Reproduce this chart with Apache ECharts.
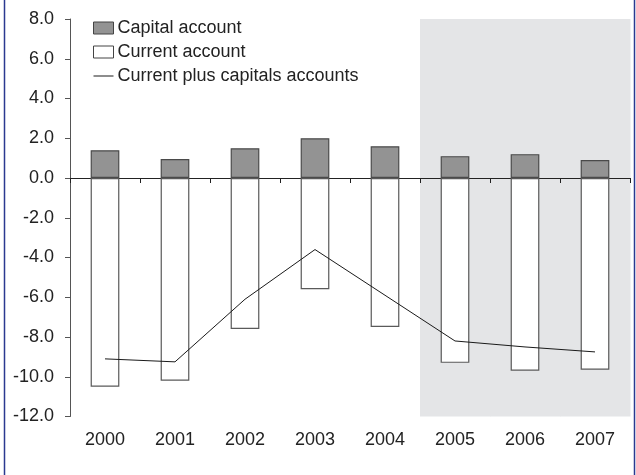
<!DOCTYPE html>
<html>
<head>
<meta charset="utf-8">
<script src="https://cdn.jsdelivr.net/npm/echarts@6/dist/echarts.min.js"></script>
<style>
  html, body { margin: 0; padding: 0; background: #ffffff; }
  #chart { width: 636px; height: 475px; }
</style>
</head>
<body>
<div id="chart"></div>
<script>
// Balance of payments, % of GDP
const years = ['2000', '2001', '2002', '2003', '2004', '2005', '2006', '2007'];
const capitalAccount = [1.4, 0.95, 1.5, 2.0, 1.6, 1.1, 1.2, 0.9];
const currentAccount = [-10.5, -10.2, -7.6, -5.6, -7.5, -9.3, -9.7, -9.65];
const combinedAccounts = [-9.1, -9.25, -6.1, -3.6, -5.9, -8.2, -8.5, -8.75];
// Forecast years, drawn on a grey band
const shadedYears = ['2005', '2006', '2007'];
const yMin = -12, yMax = 8, yStep = 2;

const FONT = '"Liberation Sans", Arial, sans-serif';
const TEXT = '#222222';

const chart = echarts.init(document.getElementById('chart'), null, { renderer: 'canvas' });

chart.setOption({
  animation: false,
  backgroundColor: '#ffffff',
  textStyle: { fontFamily: FONT },
  grid: { left: 70, right: 6, top: 19, bottom: 58.5, containLabel: false },
  legend: {
    orient: 'vertical',
    left: 88,
    top: 14,
    itemWidth: 20,
    itemHeight: 12,
    itemGap: 6,
    textStyle: { fontFamily: FONT, fontSize: 18, color: TEXT, padding: [0, 0, 0, -1] },
    data: [
      { name: 'Capital account', icon: 'rect', itemStyle: { color: '#939393', borderColor: '#444444', borderWidth: 1 } },
      { name: 'Current account', icon: 'rect', itemStyle: { color: '#ffffff', borderColor: '#444444', borderWidth: 1 } },
      { name: 'Current plus capitals accounts', icon: 'path://M0,0 L20,0 L20,1 L0,1 Z', itemStyle: { color: '#1a1a1a', borderWidth: 0 } }
    ]
  },
  xAxis: [
    {
      type: 'category',
      data: years,
      boundaryGap: true,
      axisLine: { onZero: true, lineStyle: { color: '#222222', width: 1 } },
      axisTick: { show: true, inside: false, length: 5, lineStyle: { color: '#222222' } },
      axisLabel: { show: false },
      splitLine: { show: false }
    },
    {
      type: 'category',
      data: years,
      position: 'bottom',
      boundaryGap: true,
      axisLine: { show: false, onZero: false },
      axisTick: { show: false },
      axisLabel: { show: true, fontFamily: FONT, fontSize: 18, color: TEXT, margin: 15 },
      splitLine: { show: false }
    }
  ],
  yAxis: {
    type: 'value',
    min: yMin,
    max: yMax,
    interval: yStep,
    axisLine: { show: true, lineStyle: { color: '#555555', width: 1 } },
    axisTick: { show: true, length: 5, lineStyle: { color: '#555555' } },
    axisLabel: {
      fontFamily: FONT, fontSize: 18, color: TEXT, margin: 16,
      formatter: v => v.toFixed(1)
    },
    splitLine: { show: false }
  },
  series: [
    {
      name: 'Forecast band',
      type: 'custom',
      xAxisIndex: 0,
      z: -1,
      silent: true,
      data: shadedYears.map(y => [y]),
      renderItem: function (params, api) {
        const center = api.coord([api.value(0), 0])[0];
        const band = api.size([1, 0])[0];
        const top = api.coord([api.value(0), yMax])[1];
        const bottom = api.coord([api.value(0), yMin])[1];
        return {
          type: 'rect',
          shape: { x: center - band / 2, y: top, width: band + 0.5, height: bottom - top },
          style: { fill: '#e4e5e7' }
        };
      }
    },
    {
      name: 'Capital account',
      type: 'bar',
      stack: 'accounts',
      barWidth: '41%',
      data: capitalAccount,
      itemStyle: { color: '#939393', borderColor: '#4a4a4a', borderWidth: 1.2 }
    },
    {
      name: 'Current account',
      type: 'bar',
      stack: 'accounts',
      barWidth: '41%',
      data: currentAccount,
      itemStyle: { color: '#ffffff', borderColor: '#5a5a5a', borderWidth: 1.2 }
    },
    {
      name: 'Current plus capitals accounts',
      type: 'line',
      data: combinedAccounts,
      symbol: 'none',
      showSymbol: false,
      z: 5,
      lineStyle: { color: '#1a1a1a', width: 1 },
      itemStyle: { color: '#1a1a1a' }
    }
  ],
  graphic: [
    { type: 'line', shape: { x1: 4.5, y1: 0, x2: 4.5, y2: 475 }, style: { stroke: '#2b3990', lineWidth: 1.5 }, silent: true },
    { type: 'line', shape: { x1: 634.5, y1: 0, x2: 634.5, y2: 475 }, style: { stroke: '#2b3990', lineWidth: 1.5 }, silent: true }
  ]
});
</script>
</body>
</html>
